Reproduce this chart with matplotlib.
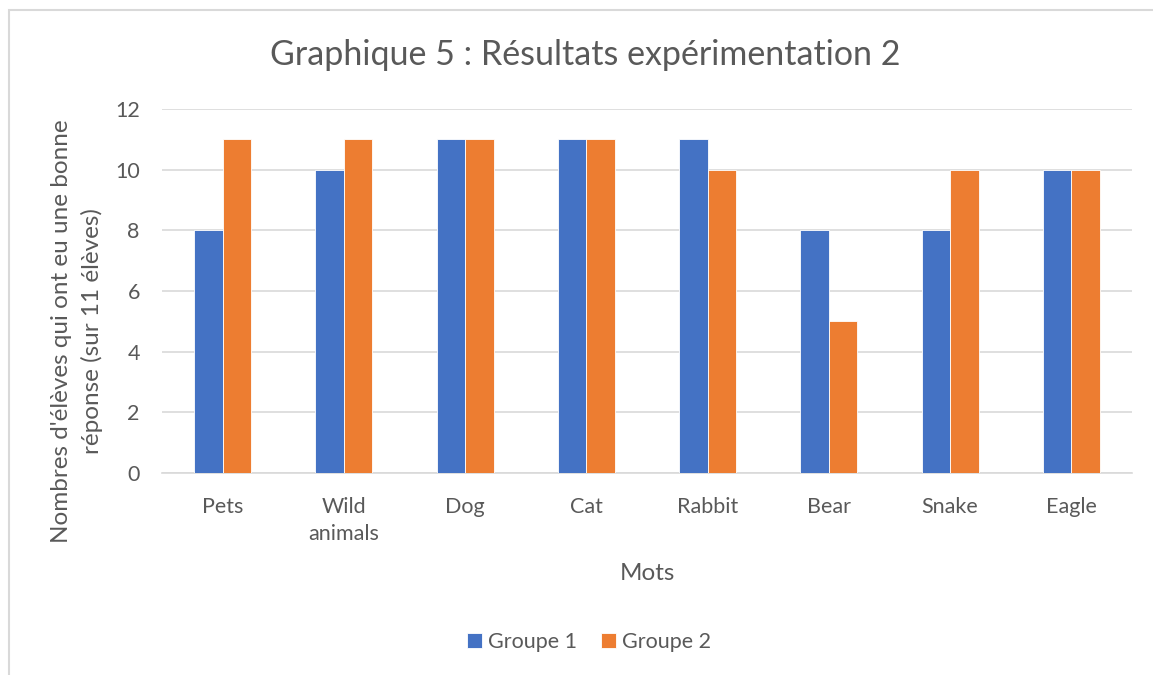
import matplotlib.pyplot as plt
import matplotlib.patches as patches
import numpy as np

plt.rcParams['font.family'] = ['Lato', 'DejaVu Sans']

mots = ["Pets", "Wild\nanimals", "Dog", "Cat", "Rabbit", "Bear", "Snake", "Eagle"]
groupe1 = [8, 10, 11, 11, 11, 8, 8, 10]
groupe2 = [11, 11, 11, 11, 10, 5, 10, 10]

textColor = '#595959'
gridColor = '#D9D9D9'
blue = '#4472C4'
orange = '#ED7D31'

W, H = 1153, 675
fig = plt.figure(figsize=(W / 100, H / 100), dpi=100)
ax = fig.add_axes([162 / W, 1 - 473 / H, (1132 - 162) / W, (473 - 109) / H])

# outer chart border (cropped on right and bottom)
fig.patches.append(patches.Rectangle((9 / W, -0.05), 1.1, 1 - 10 / H + 0.05,
                                     transform=fig.transFigure, fill=False,
                                     edgecolor=gridColor, linewidth=1.5))

x = np.arange(len(mots))
w = 0.235
ax.bar(x - w / 2, groupe1, w, color=blue, edgecolor='white', linewidth=0.6, label="Groupe 1", zorder=3)
ax.bar(x + w / 2, groupe2, w, color=orange, edgecolor='white', linewidth=0.6, label="Groupe 2", zorder=3)

ax.set_xlim(-0.5, len(mots) - 0.5)
ax.set_ylim(0, 12)
ax.set_yticks(range(0, 13, 2))
ax.set_xticks(x)
ax.set_xticklabels(mots, linespacing=1.45)
ax.yaxis.grid(True, color=gridColor, linewidth=1.2, zorder=0)
for s in ['top', 'right', 'left']:
    ax.spines[s].set_visible(False)
ax.spines['bottom'].set_color(gridColor)
ax.spines['bottom'].set_linewidth(1.2)
ax.tick_params(axis='both', length=0, colors=textColor, labelsize=15.5)
ax.tick_params(axis='x', pad=17)
ax.tick_params(axis='y', pad=16)

fig.text(585 / W, 1 - 55 / H, "Graphique 5 : Résultats expérimentation 2",
         ha='center', va='center', fontsize=24.5, color=textColor)
fig.text(647 / W, 1 - 573 / H, "Mots", ha='center', va='center', fontsize=17.5, color=textColor)
fig.text(77 / W, 1 - 331 / H, "Nombres d'élèves qui ont eu une bonne\nréponse (sur 11 élèves)",
         ha='center', va='center', rotation=90, fontsize=17.5, color=textColor, linespacing=1.45)

leg = fig.legend(loc='center', bbox_to_anchor=(589 / W, 1 - 642 / H), ncol=2, frameon=False,
                 fontsize=15.5, handlelength=0.7, handleheight=0.7, handletextpad=0.3,
                 columnspacing=1.1)
for t in leg.get_texts():
    t.set_color(textColor)

fig.savefig("out.png", dpi=100)
